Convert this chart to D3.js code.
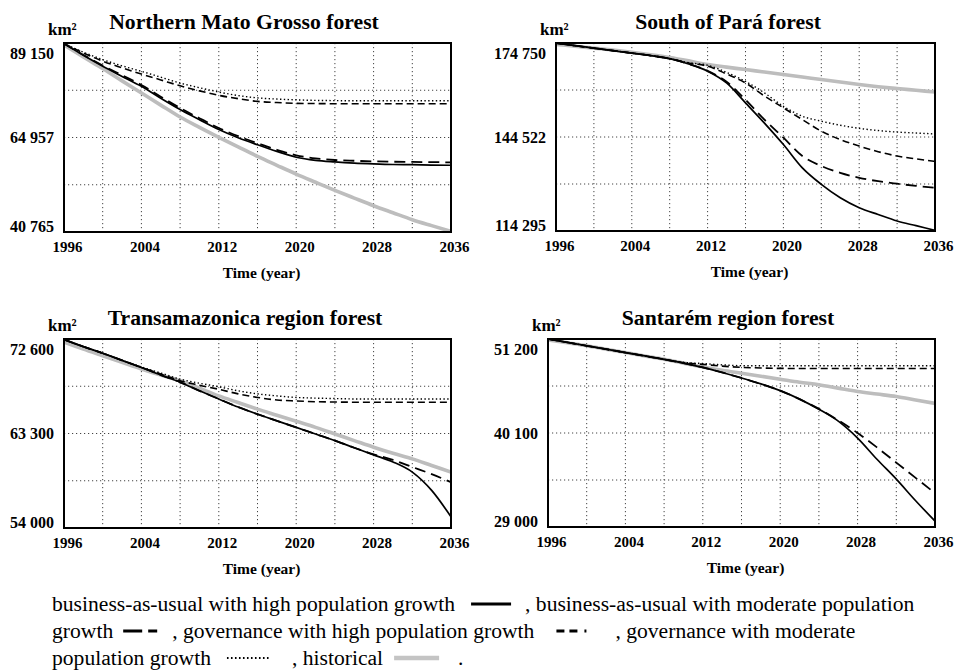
<!DOCTYPE html>
<html><head><meta charset="utf-8">
<script src="https://cdn.jsdelivr.net/npm/d3@7"></script>
<style>
body{margin:0;background:#fff}
svg{display:block}
text{font-family:"Liberation Serif","Times New Roman",serif;fill:#000}
</style></head><body>
<svg id="chart" width="956" height="670"></svg>
<script>
// ---------------- DATA ----------------
const years = [1996,1998,2000,2002,2004,2006,2008,2010,2012,2014,2016,2018,2020,2022,2024,2026,2028,2030,2032,2034,2036];
const xTickYears = [1996,2004,2012,2020,2028,2036];
const gridYears = [2000,2004,2008,2012,2016,2020,2024,2028,2032];
const unitLabel = "km²";
const xAxisTitle = "Time (year)";

// Northern Mato Grosso forest
const matoTitle = "Northern Mato Grosso forest";
const matoTicks = [40765, 64957, 89150];
const matoHistorical = [88700,85600,82600,79450,76350,73250,70200,67550,65000,62550,60130,57850,55600,53500,51430,49450,47500,45700,43920,42400,40930];
const matoBauHigh    = [89000,86000,83200,80600,78050,75000,72100,69500,67000,64900,63100,61400,59900,59100,58700,58400,58200,58050,58000,57900,57850];
const matoBauMod     = [89000,86100,83400,80900,78400,75400,72500,69900,67400,65300,63500,61800,60400,59600,59200,59000,58850,58750,58700,58650,58600];
const matoGovHigh    = [89000,86600,84500,82800,81200,79700,78200,76900,75750,74900,74200,73900,73700,73650,73600,73600,73600,73600,73600,73600,73600];
const matoGovMod     = [89000,86800,84900,83300,81900,80400,78900,77700,76600,75700,75100,74800,74600,74450,74400,74350,74350,74350,74350,74350,74350];

// South of Pará forest
const paraTitle = "South of Pará forest";
const paraTicks = [114295, 144522, 174750];
const paraHistorical = [174300,173700,173100,172500,171800,171000,170100,169000,167800,167000,166200,165400,164600,163800,163000,162200,161400,160700,160100,159550,159000];
const paraBauHigh    = [174700,173900,173100,172300,171500,170700,169700,168000,165700,161900,155500,149000,142100,134600,129300,125000,121800,119600,117500,116000,114500];
const paraBauMod     = [174700,173900,173100,172300,171500,170700,169700,168000,165800,162300,156500,150100,144300,138400,135200,133000,131400,130300,129500,128800,128200];
const paraGovHigh    = [174700,173900,173100,172300,171500,170700,169700,168300,167300,164800,161900,157700,153900,150100,146400,143700,141600,139800,138400,137500,136700];
const paraGovMod     = [174700,173900,173100,172300,171500,170700,169700,168400,167600,165300,162400,158700,154400,151200,149600,148300,147300,146600,146100,145800,145500];

// Transamazonica region forest
const transTitle = "Transamazonica region forest";
const transTicks = [54000, 63300, 72600];
const transHistorical = [72300,71600,70950,70300,69650,69050,68500,67750,67000,66350,65700,65100,64500,63900,63250,62600,61950,61350,60800,60150,59500];
const transBauHigh    = [72550,71850,71200,70500,69800,69050,68350,67500,66700,65900,65200,64550,63900,63250,62600,61900,61200,60500,59500,57700,55100];
const transBauMod     = [72550,71850,71200,70500,69800,69050,68350,67500,66700,65900,65200,64550,63900,63250,62600,61900,61250,60700,60000,59300,58500];
const transGovHigh    = [72550,71850,71200,70500,69800,69150,68500,68050,67650,67200,66850,66600,66500,66430,66400,66380,66380,66380,66380,66380,66380];
const transGovMod     = [72550,71850,71200,70500,69850,69250,68650,68250,67900,67500,67200,67000,66850,66780,66740,66700,66700,66700,66700,66700,66700];

// Santarém region forest
const santTitle = "Santarém region forest";
const santTicks = [29000, 40100, 51200];
const santHistorical = [51100,50750,50400,50000,49600,49200,48800,48350,47900,47500,47150,46800,46450,46100,45800,45400,45000,44700,44400,44000,43600];
const santBauHigh    = [51200,50800,50400,50000,49600,49200,48800,48350,47850,47250,46600,45900,45100,44100,42900,41500,39500,37000,34650,32100,29700];
const santBauMod     = [51200,50800,50400,50000,49600,49200,48800,48350,47850,47250,46600,45900,45100,44100,42950,41600,40100,38400,36600,34800,33000];
const santGovHigh    = [51200,50800,50400,50000,49600,49200,48800,48400,48200,48000,47850,47780,47730,47720,47720,47720,47720,47720,47720,47720,47720];
const santGovMod     = [51200,50800,50400,50000,49600,49200,48800,48450,48300,48150,48050,48050,48050,48050,48050,48050,48050,48050,48050,48050,48050];

// Legend text
const legendBauHigh = "business-as-usual with high population growth";
const legendBauMod1 = ", business-as-usual with moderate population";
const legendBauMod2 = "growth";
const legendGovHigh = ", governance with high population growth";
const legendGovMod1 = ", governance with moderate";
const legendGovMod2 = "population growth";
const legendHist = ", historical";

// ---------------- STYLES / LAYOUT ----------------
const styles = {
  historical: {stroke:"#bdbdbd", width:3.6, dash:null},
  bauHigh:    {stroke:"#000", width:1.7, dash:null},
  bauMod:     {stroke:"#000", width:1.8, dash:"11,6"},
  govHigh:    {stroke:"#000", width:1.6, dash:"7,4"},
  govMod:     {stroke:"#000", width:1.4, dash:"1.4,2.4"}
};

const panels = [
  {title:matoTitle, ticks:matoTicks, box:{l:64,r:451,t:43,b:232}, titleX:244,
   series:{historical:matoHistorical,bauHigh:matoBauHigh,bauMod:matoBauMod,govHigh:matoGovHigh,govMod:matoGovMod}},
  {title:paraTitle, ticks:paraTicks, box:{l:556,r:935,t:43,b:231}, titleX:728,
   series:{historical:paraHistorical,bauHigh:paraBauHigh,bauMod:paraBauMod,govHigh:paraGovHigh,govMod:paraGovMod}},
  {title:transTitle, ticks:transTicks, box:{l:64,r:451,t:339,b:528}, titleX:245,
   series:{historical:transHistorical,bauHigh:transBauHigh,bauMod:transBauMod,govHigh:transGovHigh,govMod:transGovMod}},
  {title:santTitle, ticks:santTicks, box:{l:548,r:935,t:339,b:527}, titleX:728,
   series:{historical:santHistorical,bauHigh:santBauHigh,bauMod:santBauMod,govHigh:santGovHigh,govMod:santGovMod}}
];

const svg = d3.select("#chart");
const fmt = v => d3.format(",")(v).replace(/,/g, " ");
const drawOrder = ["historical","govMod","govHigh","bauMod","bauHigh"];

panels.forEach((p, i) => {
  const b = p.box;
  const x = d3.scaleLinear().domain([1996, 2036]).range([b.l, b.r]);
  const y = d3.scaleLinear().domain([p.ticks[0], p.ticks[2]]).range([b.b, b.t]);
  const g = svg.append("g");

  const cid = "clip" + i;
  svg.append("clipPath").attr("id", cid).append("rect")
    .attr("x", b.l).attr("y", b.t).attr("width", b.r - b.l).attr("height", b.b - b.t);

  // grid
  const [lo, hi] = y.domain();
  const hGrid = [0.25, 0.5, 0.75].map(f => lo + (hi - lo) * f);
  g.selectAll(".vg").data(gridYears).join("line")
    .attr("x1", d => x(d)).attr("x2", d => x(d)).attr("y1", b.t).attr("y2", b.b)
    .attr("stroke", "#444").attr("stroke-width", 1).attr("stroke-dasharray", "1.2,2.8");
  g.selectAll(".hg").data(hGrid).join("line")
    .attr("y1", d => y(d)).attr("y2", d => y(d)).attr("x1", b.l).attr("x2", b.r)
    .attr("stroke", "#444").attr("stroke-width", 1).attr("stroke-dasharray", "1.2,2.8");

  // lines
  const line = d3.line().x((d, k) => x(years[k])).y(d => y(d)).curve(d3.curveMonotoneX);
  const lg = g.append("g").attr("clip-path", `url(#${cid})`);
  drawOrder.forEach(key => {
    const st = styles[key];
    lg.append("path").datum(p.series[key]).attr("d", line)
      .attr("fill", "none").attr("stroke", st.stroke).attr("stroke-width", st.width)
      .attr("stroke-dasharray", st.dash).attr("stroke-linejoin", "round");
  });

  // frame
  g.append("rect").attr("x", b.l).attr("y", b.t).attr("width", b.r - b.l).attr("height", b.b - b.t)
    .attr("fill", "none").attr("stroke", "#000").attr("stroke-width", 2);

  // y axis
  const ya = g.append("g").attr("transform", `translate(${b.l},0)`)
    .call(d3.axisLeft(y).tickValues(p.ticks).tickSize(0).tickPadding(10).tickFormat(fmt));
  ya.select(".domain").remove();
  ya.selectAll("text").attr("font-family", "Liberation Serif").attr("font-weight", "bold")
    .attr("font-size", 16).attr("fill", "#000")
    .attr("dy", (d, k) => k === 0 ? "-0.05em" : (k === 2 ? "0.95em" : "0.34em"));

  // x axis
  const xa = g.append("g").attr("transform", `translate(0,${b.b})`)
    .call(d3.axisBottom(x).tickValues(xTickYears).tickSize(0).tickPadding(9).tickFormat(d3.format("d")));
  xa.select(".domain").remove();
  xa.selectAll("text").attr("font-family", "Liberation Serif").attr("font-weight", "bold")
    .attr("font-size", 15).attr("fill", "#000").attr("dx", 3);

  g.append("text").attr("x", (b.l + b.r) / 2 + 4).attr("y", b.b + 46)
    .attr("text-anchor", "middle").attr("font-weight", "bold").attr("font-size", 15.5).text(xAxisTitle);

  // title & unit
  g.append("text").attr("x", p.titleX).attr("y", b.t - 14)
    .attr("text-anchor", "middle").attr("font-weight", "bold").attr("font-size", 21.7).text(p.title);
  g.append("text").attr("x", b.l - 16).attr("y", b.t - 8)
    .attr("font-weight", "bold").attr("font-size", 17).text(unitLabel);
});

// ---------------- LEGEND ----------------
const legendFont = 21.6;
const lgG = svg.append("g");
const legendLines = [
  {y:611, items:[{t:legendBauHigh},{gap:16},{sym:"bauHigh",w:40},{gap:14},{t:legendBauMod1}]},
  {y:638, items:[{t:legendBauMod2},{gap:10},{sym:"bauMod",w:34},{gap:15},{t:legendGovHigh},{gap:22},{sym:"govHigh",w:33},{gap:26},{t:legendGovMod1}]},
  {y:665, items:[{t:legendGovMod2},{gap:16},{sym:"govMod",w:43},{gap:22},{t:legendHist},{gap:11},{sym:"historical",w:45},{gap:19},{t:"."}]}
];
const symStyle = {
  bauHigh:{stroke:"#000", width:2.8, dash:null},
  bauMod:{stroke:"#000", width:3, dash:"19,6,9,200"},
  govHigh:{stroke:"#000", width:3, dash:"8,5,8,7,2,200"},
  govMod:{stroke:"#000", width:2, dash:"1.6,2.4"},
  historical:{stroke:"#c4c4c4", width:4.5, dash:null}
};
legendLines.forEach(L => {
  let cx = 52;
  L.items.forEach(it => {
    if (it.gap) { cx += it.gap; return; }
    if (it.t) {
      const t = lgG.append("text").attr("x", cx).attr("y", L.y).attr("font-size", legendFont).text(it.t);
      cx += t.node().getComputedTextLength();
    } else {
      const st = symStyle[it.sym];
      lgG.append("line").attr("x1", cx).attr("x2", cx + it.w).attr("y1", L.y - 7).attr("y2", L.y - 7)
        .attr("stroke", st.stroke).attr("stroke-width", st.width).attr("stroke-dasharray", st.dash);
      cx += it.w;
    }
  });
});
</script>
</body></html>
